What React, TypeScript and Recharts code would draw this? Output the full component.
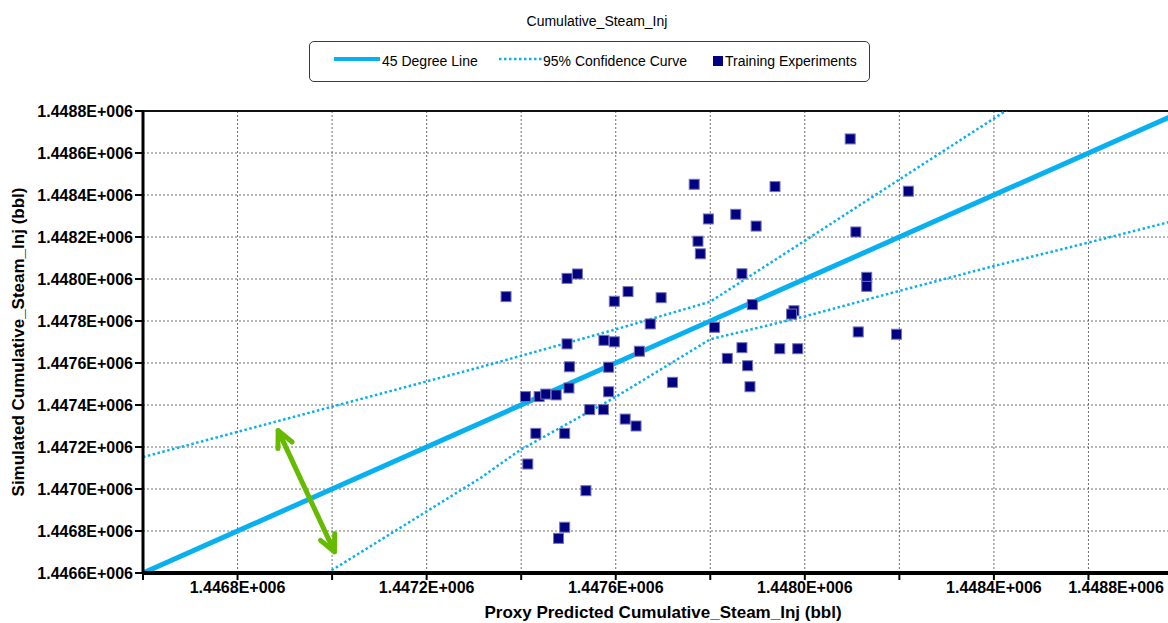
import React from "react";
import { CartesianGrid, ComposedChart, Line, ReferenceLine, Scatter, XAxis, YAxis } from "recharts";

const FONT = "Arial, 'Liberation Sans', sans-serif";
const BLUE = "#09b0ef";
const NAVY = "#000080";
const GREEN = "#66bb00";

// axis ticks (bbl)
const AXIS_TICKS = [
  1446600, 1446800, 1447000, 1447200, 1447400, 1447600, 1447800, 1448000, 1448200, 1448400, 1448600, 1448800,
];
const X_LABELED = [1446800, 1447200, 1447600, 1448000, 1448400, 1448800];

// 45 degree line
const DIAG_X = [1446600, 1448800];

// 95% confidence curves
const UPPER_X = [1446600, 1447313, 1447595, 1447800, 1447997, 1448286, 1448395, 1448500];
const UPPER_Y = [1447152, 1447580, 1447757, 1447892, 1448178, 1448599, 1448757, 1448910];
const LOWER_X = [1446990, 1447313, 1447398, 1447595, 1447800, 1447997, 1448194, 1448395, 1448594, 1448765, 1448800];
const LOWER_Y = [1446600, 1447051, 1447186, 1447432, 1447713, 1447820, 1447940, 1448059, 1448170, 1448268, 1448288];

// training experiments: proxy predicted vs simulated
const PREDICTED = [
  1447368, 1447497, 1447519, 1447597, 1447626, 1447696, 1447673, 1447809, 1447836, 1447497, 1447575, 1447597,
  1447650, 1447502, 1447585, 1447720, 1447409, 1447438, 1447452, 1447474, 1447501, 1447585, 1447545, 1447574,
  1447620, 1447643, 1447431, 1447492, 1447414, 1447537, 1447492, 1447479, 1448096, 1447766, 1447937, 1448219,
  1447796, 1447854, 1447897, 1447774, 1447779, 1448108, 1447867, 1448131, 1448131, 1447889, 1447977, 1447972,
  1448113, 1448194, 1447867, 1447947, 1447985, 1447879, 1447884,
];
const SIMULATED = [
  1447916, 1448003, 1448024, 1447894, 1447940, 1447911, 1447786, 1447770, 1447622, 1447691, 1447708, 1447701,
  1447656, 1447582, 1447580, 1447508, 1447440, 1447440, 1447452, 1447448, 1447481, 1447463, 1447378, 1447378,
  1447333, 1447300, 1447265, 1447265, 1447119, 1446992, 1446818, 1446765, 1448667, 1448451, 1448440, 1448418,
  1448286, 1448308, 1448252, 1448180, 1448120, 1448224, 1448025, 1448008, 1447965, 1447878, 1447849, 1447833,
  1447748, 1447737, 1447673, 1447668, 1447668, 1447587, 1447487,
];

// annotation arrow between the confidence curves
const ARROW_X = [1446886, 1447005];
const ARROW_Y = [1447278, 1446701];

const diagData = DIAG_X.map((v) => ({ x: v, y: v }));
const upperData = UPPER_X.map((x, i) => ({ x, y: UPPER_Y[i] }));
const lowerData = LOWER_X.map((x, i) => ({ x, y: LOWER_Y[i] }));
const experiments = PREDICTED.map((x, i) => ({ x, y: SIMULATED[i] }));

const fmt = (v: number) => (v / 1e6).toFixed(4) + "E+006";
const VISIBLE_WIDTH = 1168;

function XTick({ x, y, payload }: any) {
  if (!X_LABELED.includes(payload.value)) return <g />;
  const cx = Math.min(x, VISIBLE_WIDTH - 52);
  return (
    <text x={cx} y={y} dy="0.71em" textAnchor="middle" fill="#000" fontSize={16} fontWeight="bold" fontFamily={FONT}>
      {fmt(payload.value)}
    </text>
  );
}

function Square({ cx, cy }: any) {
  return <rect x={cx - 5} y={cy - 5} width={10} height={10} fill={NAVY} stroke="#7474b8" strokeWidth={1} />;
}

function DoubleArrow({ x1, y1, x2, y2 }: any) {
  const ang = Math.atan2(y2 - y1, x2 - x1);
  const len = 18;
  const spread = 0.45;
  const head = (px: number, py: number, a: number) =>
    `M${px + len * Math.cos(a + spread)},${py + len * Math.sin(a + spread)} L${px},${py} L${
      px + len * Math.cos(a - spread)
    },${py + len * Math.sin(a - spread)}`;
  return (
    <g stroke={GREEN} strokeWidth={5} fill="none" strokeLinecap="round" strokeLinejoin="round">
      <line x1={x1} y1={y1} x2={x2} y2={y2} />
      <path d={head(x1, y1, ang)} />
      <path d={head(x2, y2, ang + Math.PI)} />
    </g>
  );
}

function LegendBox() {
  const text: React.CSSProperties = { position: "absolute", top: 0, lineHeight: "39px", fontSize: 14, whiteSpace: "nowrap" };
  return (
    <div
      style={{
        position: "absolute",
        left: 309,
        top: 41,
        width: 561,
        height: 41,
        border: "1px solid #3a3a3a",
        borderRadius: 5,
        boxSizing: "border-box",
        fontFamily: FONT,
        background: "#fff",
      }}
    >
      <div style={{ position: "absolute", left: 24, top: 15, width: 46, height: 4, background: BLUE }} />
      <span style={{ ...text, left: 72 }}>45 Degree Line</span>
      <svg style={{ position: "absolute", left: 189, top: 14 }} width={44} height={6}>
        <line x1={0} y1={3} x2={44} y2={3} stroke={BLUE} strokeWidth={2.5} strokeDasharray="2.5 2.5" />
      </svg>
      <span style={{ ...text, left: 233 }}>95% Confidence Curve</span>
      <div style={{ position: "absolute", left: 403, top: 14, width: 10, height: 10, background: NAVY }} />
      <span style={{ ...text, left: 415 }}>Training Experiments</span>
    </div>
  );
}

export default function App() {
  return (
    <div
      style={{
        position: "fixed",
        left: 0,
        top: 0,
        width: VISIBLE_WIDTH,
        height: 623,
        overflow: "hidden",
        background: "#fff",
      }}
    >
      <div
        style={{
          position: "absolute",
          left: 497,
          top: 11,
          width: 200,
          textAlign: "center",
          fontFamily: FONT,
          fontSize: 14,
          lineHeight: "20px",
        }}
      >
        Cumulative_Steam_Inj
      </div>
      <LegendBox />
      <ComposedChart
        width={1200}
        height={623}
        margin={{ top: 111, right: 17, bottom: 0, left: 0 }}
        style={{ position: "absolute", left: 0, top: 0 }}
      >
        <CartesianGrid stroke="#6e6e6e" strokeDasharray="2 2" />
        <XAxis
          type="number"
          dataKey="x"
          domain={[1446600, 1448800]}
          ticks={AXIS_TICKS}
          interval={0}
          allowDataOverflow
          height={50}
          axisLine={{ stroke: "#000", strokeWidth: 4 }}
          tickLine={{ stroke: "#000", strokeWidth: 2 }}
          tickSize={7}
          tick={<XTick />}
          label={{
            value: "Proxy Predicted Cumulative_Steam_Inj (bbl)",
            position: "insideBottom",
            offset: 5,
            style: { fill: "#000", fontSize: 17, fontWeight: "bold", fontFamily: FONT },
          }}
        />
        <YAxis
          type="number"
          dataKey="y"
          domain={[1446600, 1448800]}
          ticks={AXIS_TICKS}
          interval={0}
          allowDataOverflow
          width={143}
          axisLine={{ stroke: "#000", strokeWidth: 3 }}
          tickLine={{ stroke: "#000", strokeWidth: 2 }}
          tickSize={8}
          tickFormatter={fmt}
          tick={{ fill: "#000", fontSize: 16, fontWeight: "bold", fontFamily: FONT }}
          label={{
            value: "Simulated Cumulative_Steam_Inj (bbl)",
            angle: -90,
            position: "insideLeft",
            offset: 18,
            style: { fill: "#000", fontSize: 17, fontWeight: "bold", fontFamily: FONT, textAnchor: "middle" },
          }}
        />
        <ReferenceLine y={1448800} stroke="#111" strokeWidth={2} />
        <Line
          data={diagData}
          dataKey="y"
          stroke={BLUE}
          strokeWidth={5}
          dot={false}
          activeDot={false}
          isAnimationActive={false}
        />
        <Line
          data={upperData}
          dataKey="y"
          stroke={BLUE}
          strokeWidth={2.5}
          strokeDasharray="2.5 2.5"
          dot={false}
          activeDot={false}
          isAnimationActive={false}
        />
        <Line
          data={lowerData}
          dataKey="y"
          stroke={BLUE}
          strokeWidth={2.5}
          strokeDasharray="2.5 2.5"
          dot={false}
          activeDot={false}
          isAnimationActive={false}
        />
        <Scatter data={experiments} dataKey="y" shape={<Square />} isAnimationActive={false} />
        <ReferenceLine
          segment={[
            { x: ARROW_X[0], y: ARROW_Y[0] },
            { x: ARROW_X[1], y: ARROW_Y[1] },
          ]}
          shape={(p: any) => <DoubleArrow {...p} />}
        />
      </ComposedChart>
    </div>
  );
}
